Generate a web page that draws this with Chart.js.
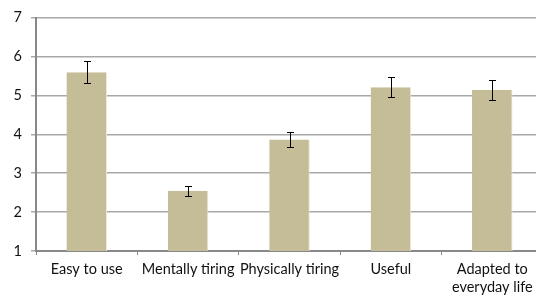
<!DOCTYPE html>
<html>
<head>
<meta charset="utf-8">
<script src="https://cdn.jsdelivr.net/npm/chart.js@4/dist/chart.umd.min.js"></script>
<style>
  html, body { margin: 0; padding: 0; background: #fff; overflow: hidden; }
  #wrap { width: 543px; height: 300px; }
</style>
</head>
<body>
<div id="wrap"><canvas id="chart" width="543" height="300"></canvas></div>
<script>
const categories = ['Easy to use', 'Mentally tiring', 'Physically tiring', 'Useful', ['Adapted to', 'everyday life']]
const means = [5.6, 2.55, 3.87, 5.21, 5.15]
const errors = [0.29, 0.13, 0.19, 0.26, 0.26]
const yTicks = [1, 2, 3, 4, 5, 6, 7]

// error bars drawn with the y scale
const errorBars = {
  id: 'errorBars',
  afterDatasetsDraw(chart) {
    const ctx = chart.ctx
    const meta = chart.getDatasetMeta(0)
    const y = chart.scales.y
    ctx.save()
    ctx.strokeStyle = '#000'
    ctx.lineWidth = 1
    meta.data.forEach((bar, i) => {
      const x = Math.round(bar.x) + 0.5
      const top = Math.round(y.getPixelForValue(means[i] + errors[i])) + 0.5
      const bottom = Math.round(y.getPixelForValue(means[i] - errors[i])) + 0.5
      ctx.beginPath()
      ctx.moveTo(x, top)
      ctx.lineTo(x, bottom)
      ctx.moveTo(x - 3.5, top)
      ctx.lineTo(x + 3.5, top)
      ctx.moveTo(x - 3.5, bottom)
      ctx.lineTo(x + 3.5, bottom)
      ctx.stroke()
    })
    ctx.restore()
  }
}

new Chart(document.getElementById('chart'), {
  type: 'bar',
  data: {
    labels: categories,
    datasets: [{
      data: means,
      backgroundColor: '#c4bd97',
      borderColor: '#ece9d8',
      borderWidth: { left: 0, top: 0, bottom: 0, right: 1 },
      barPercentage: 0.4,
      categoryPercentage: 1
    }]
  },
  options: {
    responsive: false,
    animation: false,
    layout: { padding: { top: 15, left: 0, right: 0, bottom: 0 } },
    plugins: { legend: { display: false }, tooltip: { enabled: false } },
    scales: {
      x: {
        grid: { offset: true, drawOnChartArea: false, drawTicks: true, tickLength: 4, color: '#888' },
        border: { color: '#888', width: 2 },
        ticks: {
          color: '#111',
          padding: 5,
          maxRotation: 0,
          autoSkip: false,
          font: { family: 'Lato', size: 14.5, lineHeight: 1.25 }
        },
        afterFit(scale) { scale.height = 49 }
      },
      y: {
        min: 1,
        max: 7,
        afterBuildTicks(scale) { scale.ticks = yTicks.map(v => ({ value: v })) },
        grid: { color: '#a8a8a8', tickLength: 5, lineWidth: 1.5 },
        border: { color: '#888', width: 2 },
        ticks: {
          color: '#111',
          padding: 9,
          font: { family: 'Lato', size: 14.5 }
        },
        afterFit(scale) { scale.width = 36 }
      }
    }
  },
  plugins: [errorBars]
})
</script>
</body>
</html>
